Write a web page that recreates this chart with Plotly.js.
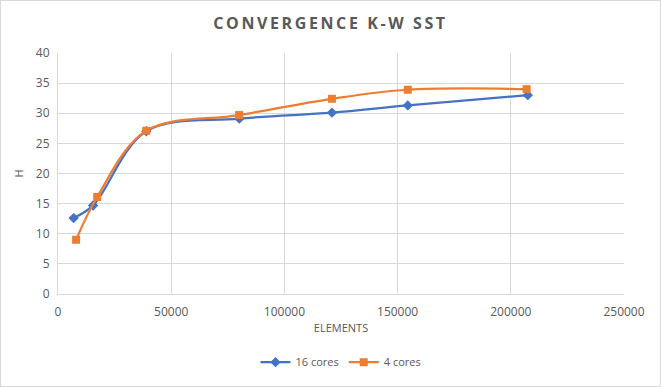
<!DOCTYPE html>
<html>
<head>
<meta charset="utf-8">
<script src="https://cdn.plot.ly/plotly-3.0.1.min.js"></script>
<style>
html,body{margin:0;padding:0;background:#fff;}
#chart{width:659px;height:385px;border:1px solid #d9d9d9;}
</style>
</head>
<body>
<div id="chart"></div>
<script>
const elements16 = [6900, 15500, 39000, 80100, 121000, 154500, 207500];
const h16 = [12.6, 14.7, 27.0, 29.1, 30.1, 31.3, 33.0];
const elements4 = [8000, 17300, 39000, 80000, 121000, 154500, 207000];
const h4 = [9.0, 16.1, 27.1, 29.7, 32.4, 33.9, 34.0];
const seriesNames = ["16 cores", "4 cores"];
const xTicks = [0, 50000, 100000, 150000, 200000, 250000];
const yTicks = [0, 5, 10, 15, 20, 25, 30, 35, 40];

const font = "Open Sans, Liberation Sans, sans-serif";
const traces = [
  {x: elements16, y: h16, name: seriesNames[0], mode: "lines+markers",
   line: {color: "#4472C4", width: 2.25, shape: "spline", smoothing: 1},
   marker: {symbol: "diamond", size: 8, color: "#4472C4"}},
  {x: elements4, y: h4, name: seriesNames[1], mode: "lines+markers",
   line: {color: "#ED7D31", width: 2.25, shape: "spline", smoothing: 1},
   marker: {symbol: "square", size: 8, color: "#ED7D31"}}
];
const layout = {
  width: 659, height: 385,
  margin: {l: 57, r: 36, t: 52, b: 92},
  paper_bgcolor: "#fff", plot_bgcolor: "#fff",
  font: {family: font, color: "#595959", size: 11},
  title: {text: "<b><span style=\"letter-spacing:2.6px\">CONVERGENCE K-W SST</span></b>", x: 0.5, xanchor: "center", y: 0.943, yanchor: "middle",
          automargin: false, font: {family: font, size: 16, color: "#595959"}},
  xaxis: {range: [0, 250000], tickvals: xTicks, ticktext: xTicks.map(String),
          automargin: false,
          showgrid: true, gridcolor: "#d9d9d9", gridwidth: 1, zeroline: false,
          showline: true, linecolor: "#d9d9d9", ticks: "", fixedrange: true,
          ticklabelstandoff: 7,
          tickfont: {size: 12, color: "#595959"},
          title: {text: "ELEMENTS", font: {size: 11, color: "#595959"}, standoff: 4}},
  yaxis: {range: [0, 40], tickvals: yTicks,
          automargin: false,
          showgrid: true, gridcolor: "#d9d9d9", gridwidth: 1, zeroline: false,
          showline: true, linecolor: "#d9d9d9", ticks: "", fixedrange: true,
          ticklabelstandoff: 5,
          tickfont: {size: 12, color: "#595959"},
          title: {text: "H", font: {size: 11, color: "#595959"}, standoff: 10}},
  legend: {orientation: "h", x: 0.5, xanchor: "center", yref: "container", y: 0.062, yanchor: "middle",
           itemwidth: 30, font: {size: 11, color: "#595959"}},
  showlegend: true
};
Plotly.newPlot("chart", traces, layout, {displayModeBar: false, staticPlot: true});
</script>
</body>
</html>
